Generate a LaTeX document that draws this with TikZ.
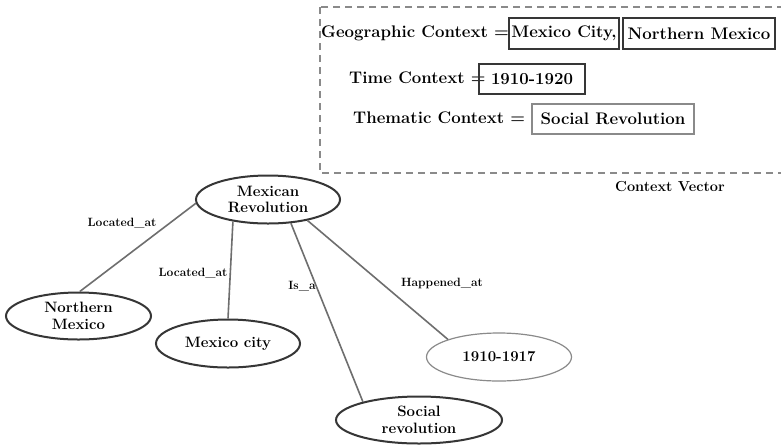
\documentclass[tikz,border=0pt]{standalone}
\usetikzlibrary{shapes.geometric}
\definecolor{inkdark}{HTML}{363636}
\definecolor{inkedge}{HTML}{6E6E6E}
\definecolor{inklight}{HTML}{8A8A8A}
\tikzset{
  concept/.style={ellipse, draw=inkdark, line width=2pt, inner sep=0pt,
    align=center, font=\bfseries\fontsize{15}{16.5}\selectfont},
  lightconcept/.style={concept, draw=inklight, line width=1.2pt},
  relation/.style={draw=inkedge, line width=1.6pt},
  rellabel/.style={font=\bfseries\fontsize{12}{14}\selectfont, inner sep=0pt},
  ctxlabel/.style={anchor=west, inner sep=0pt, font=\bfseries\fontsize{16.8}{19}\selectfont},
  valbox/.style={draw=inkdark, line width=1.4pt, inner sep=0pt,
    font=\bfseries\fontsize{16.8}{19}\selectfont},
  strongbox/.style={valbox, line width=2.4pt},
  softbox/.style={valbox, draw=inklight, line width=1.1pt},
}
\begin{document}
\begin{tikzpicture}[x=1pt, y=-1pt]
\clip (0,0) rectangle (781,445);
\fill[white] (0,0) rectangle (781,445);

% context vector frame
\draw[inklight, line width=1.3pt, dash pattern=on 7pt off 5pt] (320,7) rectangle (800,173);

\node[ctxlabel] (geo) at (321,33) {Geographic Context =};
\node[valbox, minimum width=110pt, minimum height=31pt] (geocity) at (564,33.5) {Mexico City,};
\node[strongbox, minimum width=152pt, minimum height=31pt] (geonorth) at (699,33.5) {Northern Mexico};

\node[ctxlabel] (time) at (349,78) {Time Context =};
\node[strongbox, minimum width=106pt, minimum height=30pt] (timeval) at (532,79) {1910-1920};

\node[ctxlabel] (theme) at (353,118) {Thematic Context =};
\node[softbox, minimum width=162pt, minimum height=30pt] (themeval) at (613,119) {Social Revolution};

\node[font=\bfseries\fontsize{14.5}{17}\selectfont, inner sep=0pt] (cvlabel) at (670,187) {Context Vector};

% concept graph
\node[concept, minimum width=144pt, minimum height=48pt] (mr) at (268,199.5) {Mexican\\Revolution};
\node[concept, minimum width=145pt, minimum height=47pt] (nm) at (78.5,316) {Northern\\Mexico};
\node[concept, minimum width=144pt, minimum height=48pt] (mc) at (228,343.5) {Mexico city};
\node[concept, minimum width=166pt, minimum height=47pt] (sr) at (419,420) {Social\\revolution};
\node[lightconcept, minimum width=145pt, minimum height=48pt] (yr) at (499,357) {1910-1917};

\draw[relation] (mr.183) -- (nm.87);
\draw[relation] (mr.212) -- (mc.90);
\draw[relation] (mr.314) -- (sr.162);
\draw[relation] (mr.332) -- (yr.161);

\node[rellabel] (l1) at (122,223) {Located\_at};
\node[rellabel] (l2) at (193,273) {Located\_at};
\node[rellabel] (l3) at (302,286) {Is\_a};
\node[rellabel] (l4) at (442,283) {Happened\_at};
\end{tikzpicture}
\end{document}
